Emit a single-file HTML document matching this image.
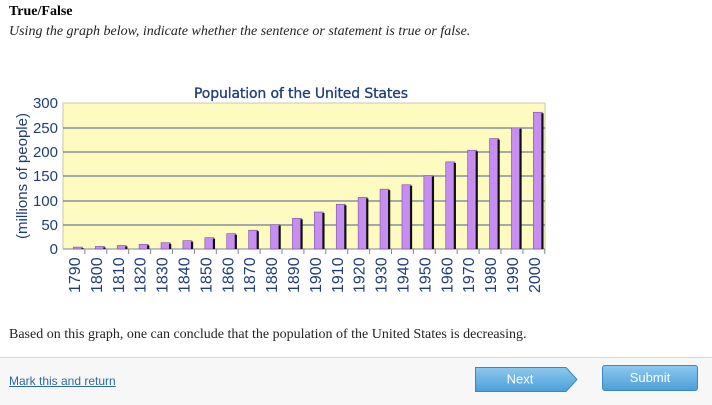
<!DOCTYPE html>
<html><head><meta charset="utf-8"><style>
body{margin:0;width:712px;height:404px;background:#fff;position:relative;overflow:hidden;font-family:"Liberation Serif",serif;}
.t{position:absolute;left:9px;top:4px;font-weight:bold;font-size:14px;color:#000}
.s{position:absolute;left:9px;top:24px;font-style:italic;font-size:14px;color:#222}
.q{position:absolute;left:9px;top:327px;font-size:14px;color:#222}
.foot{position:absolute;left:0;top:357px;width:712px;height:47px;background:#f7f7f7;border-top:1px solid #d8d8d8}
.lnk{position:absolute;left:9px;top:374px;font-family:"Liberation Sans",sans-serif;font-size:12px;color:#2a6aa8;text-decoration:underline}
.btn{position:absolute;font-family:"Liberation Sans",sans-serif;font-size:13px;color:#fff;text-align:center;background:linear-gradient(#8cc8ef,#4d9fd8);border:1px solid #3a88c2;border-radius:3px}
</style></head><body>
<div class="t">True/False</div>
<div class="s">Using the graph below, indicate whether the sentence or statement is true or false.</div>
<svg style="position:absolute;left:0;top:0" width="712" height="320" font-family="Liberation Sans, sans-serif">
<text x="301" y="98" text-anchor="middle" font-family="DejaVu Sans, sans-serif" font-size="14" fill="#1f3d78" stroke="#1f3d78" stroke-width="0.3" textLength="214">Population of the United States</text>
<rect x="63" y="103" width="482" height="146" fill="#fdfbc0" stroke="#c9c9a8"/>
<g stroke="#4b5a8a" stroke-width="1">
<line x1="63" x2="545" y1="128" y2="128"/><line x1="63" x2="545" y1="152" y2="152"/><line x1="63" x2="545" y1="176" y2="176"/><line x1="63" x2="545" y1="201" y2="201"/><line x1="63" x2="545" y1="225" y2="225"/>
<line x1="63" x2="545" y1="249" y2="249" stroke="#7a86a8"/>
</g>
<g font-size="15" fill="#1f3d78" text-anchor="end">
<text x="58" y="108">300</text><text x="58" y="133">250</text><text x="58" y="157">200</text><text x="58" y="181">150</text><text x="58" y="206">100</text><text x="58" y="230">50</text><text x="58" y="254">0</text>
</g>
<text transform="translate(27,176) rotate(-90)" text-anchor="middle" font-size="15" fill="#1f3d78">(millions of people)</text>
<g id="bars"></g>
<g id="lbl" font-size="16" fill="#1f3d78"></g>
</svg>
<script>
var v=[3.9,5.3,7.2,9.6,12.9,17.1,23.2,31.4,38.6,50.2,63,76,92,106,123,132,151,179,203,227,249,281];
var b='',l='';
for(var i=0;i<22;i++){var c=63+21.9*(i+0.5);var h=v[i]*146/300;var x=c-0.5;
b+='<rect x="'+x+'" y="'+(249-h)+'" width="9" height="'+h+'" fill="#c58ef0" stroke="#7a4fa0" stroke-width="0.6"/>';
b+='<rect x="'+(x+8)+'" y="'+(249-h+1)+'" width="2.2" height="'+(h-1)+'" fill="#111"/>';
b+='<line x1="'+(63+21.9*(i+1))+'" x2="'+(63+21.9*(i+1))+'" y1="249" y2="254" stroke="#7a86a8"/>';
l+='<text transform="translate('+(c+6)+',293) rotate(-90)">'+(1790+10*i)+'</text>';}
document.getElementById('bars').innerHTML=b;document.getElementById('lbl').innerHTML=l;
</script>
<div class="q">Based on this graph, one can conclude that the population of the United States is decreasing.</div>
<div class="foot"></div>
<div class="lnk">Mark this and return</div>
<svg style="position:absolute;left:474px;top:366px" width="106" height="27"><defs><linearGradient id="g" x1="0" y1="0" x2="0" y2="1"><stop offset="0" stop-color="#8cc8ef"/><stop offset="1" stop-color="#4d9fd8"/></linearGradient></defs><path d="M1.5,1.5 H92 L103,13.5 L92,25.5 H1.5 Z" fill="url(#g)" stroke="#3a88c2"/><text x="46" y="17.5" text-anchor="middle" font-family="Liberation Sans, sans-serif" font-size="13" fill="#fff">Next</text></svg>
<div class="btn" style="left:602px;top:365px;width:94px;height:24px;line-height:24px">Submit</div>
</body></html>
